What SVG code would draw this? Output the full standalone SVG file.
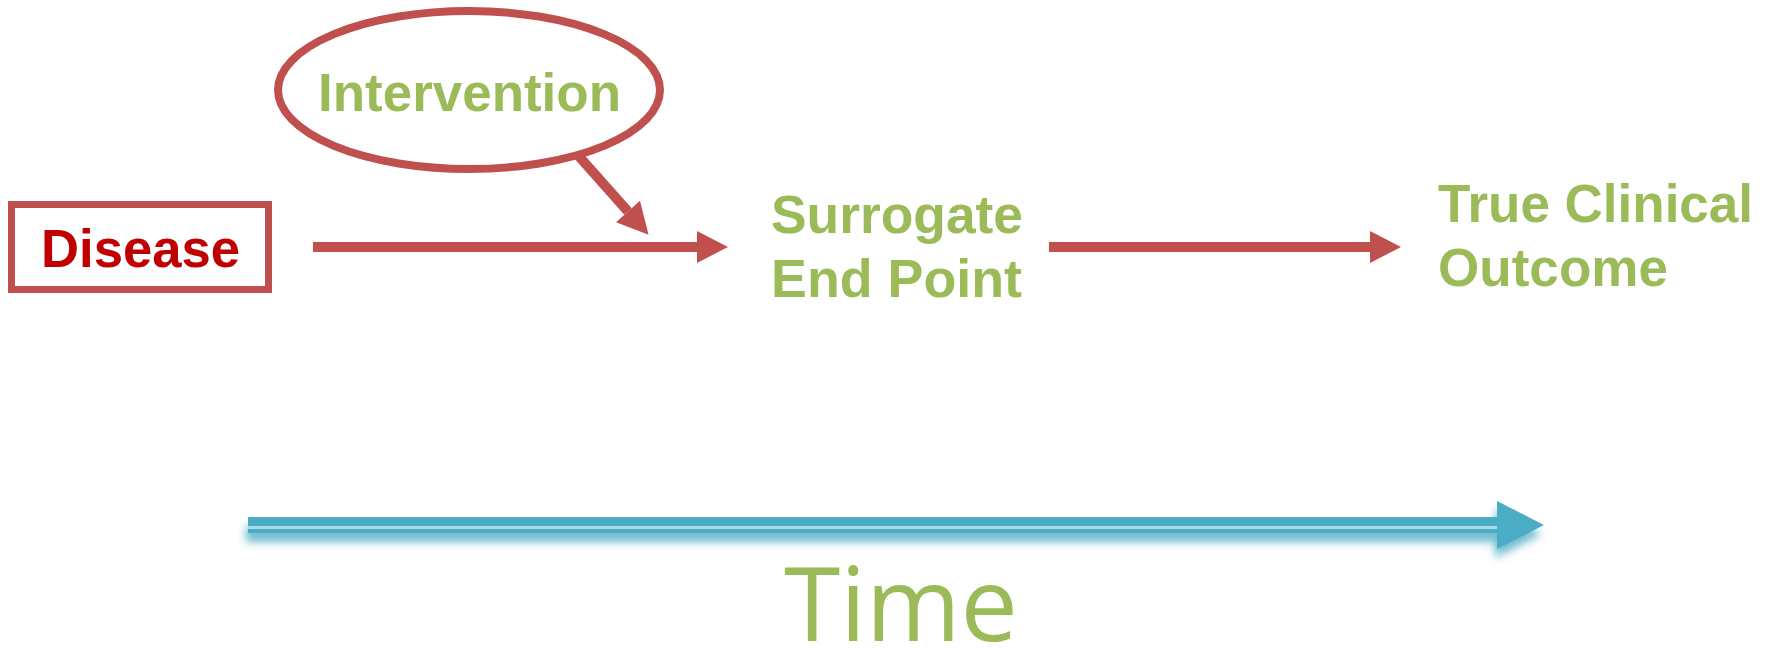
<svg xmlns="http://www.w3.org/2000/svg" width="1775" height="649" viewBox="0 0 1775 649">
  <style>
    .lbl { font-family: "Liberation Sans", Arial, sans-serif; font-weight: bold; font-size: 54px; fill: #9BBB59; }
    .dis { fill: #C00000; }
    .time { font-family: "Open Sans", "DejaVu Sans", sans-serif; font-size: 103px; fill: #9BBB59; }
    .conn { stroke: #C0504D; stroke-width: 10; fill: none; }
  </style>
  <defs>
    <marker id="head" markerUnits="userSpaceOnUse" markerWidth="31" markerHeight="32" refX="0" refY="16" orient="auto" overflow="visible">
      <path d="M0,0 L31,16 L0,32 Z" fill="#C0504D"/>
    </marker>
    <filter id="soft" x="-5%" y="-100%" width="110%" height="300%">
      <feGaussianBlur stdDeviation="4"/>
    </filter>
  </defs>

  <rect width="1775" height="649" fill="#FFFFFF"/>

  <!-- connectors -->
  <g id="connectors">
    <line class="conn" x1="313" y1="247" x2="697" y2="247" marker-end="url(#head)"/>
    <line class="conn" x1="1049" y1="247" x2="1370" y2="247" marker-end="url(#head)"/>
    <line class="conn" x1="576" y1="153" x2="628" y2="211.5" marker-end="url(#head)"/>
  </g>

  <!-- nodes -->
  <g id="intervention">
    <ellipse cx="469" cy="90" rx="191" ry="79" fill="#FFFFFF" stroke="#C0504D" stroke-width="8"/>
    <text class="lbl" x="318" y="111" textLength="303" lengthAdjust="spacingAndGlyphs">Intervention</text>
  </g>

  <g id="disease">
    <rect x="11.5" y="204.5" width="257" height="85" fill="#FFFFFF" stroke="#C0504D" stroke-width="7"/>
    <text class="lbl dis" x="41" y="267" textLength="199" lengthAdjust="spacingAndGlyphs">Disease</text>
  </g>

  <g id="surrogate">
    <text class="lbl" x="771" y="233" textLength="252" lengthAdjust="spacingAndGlyphs">Surrogate</text>
    <text class="lbl" x="771" y="297" textLength="251" lengthAdjust="spacingAndGlyphs">End Point</text>
  </g>

  <g id="outcome">
    <text class="lbl" x="1438" y="222" textLength="315" lengthAdjust="spacingAndGlyphs">True Clinical</text>
    <text class="lbl" x="1438" y="286" textLength="230" lengthAdjust="spacingAndGlyphs">Outcome</text>
  </g>

  <!-- time axis with soft drop shadow and highlight stripe -->
  <g id="time-axis">
    <path d="M248,517 H1497 V501 L1544,525 L1497,549 V533 H248 Z" fill="#4BACC6" opacity="0.8" filter="url(#soft)" transform="translate(-2,9)"/>
    <path d="M248,517 H1497 V501 L1544,525 L1497,549 V533 H248 Z" fill="#4BACC6"/>
    <rect x="248" y="526" width="1249" height="3" fill="#ADD9E6"/>
    <text class="time" x="784" y="641" textLength="234" lengthAdjust="spacingAndGlyphs">Time</text>
  </g>
</svg>
